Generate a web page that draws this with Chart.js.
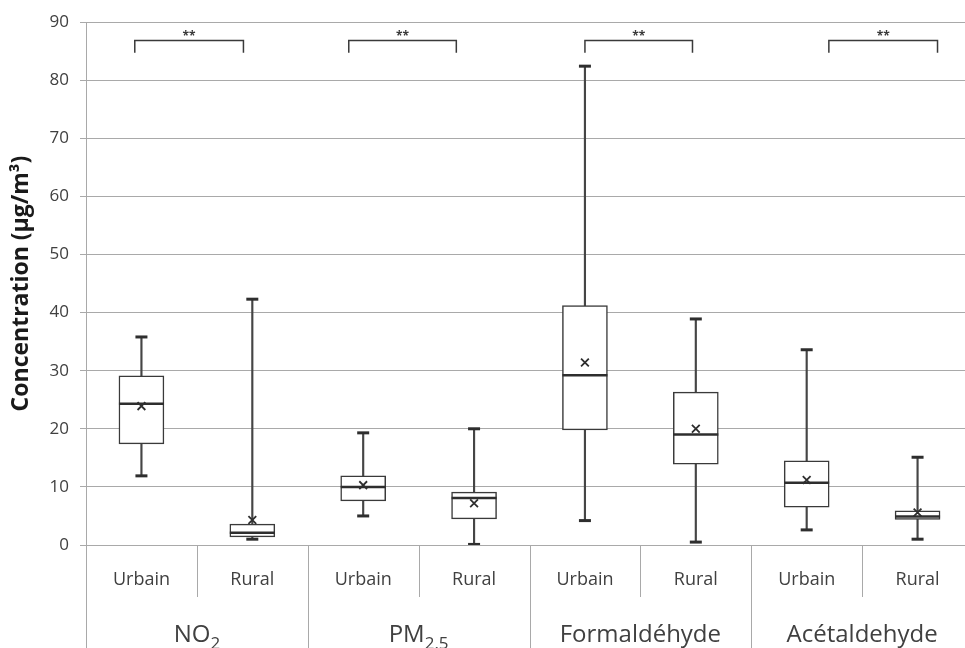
<!DOCTYPE html>
<html>
<head>
    <meta charset="UTF-8">
    <title>Concentrations Urbain / Rural</title>
    <script src="https://cdn.jsdelivr.net/npm/chart.js"></script>
    <style>
        html, body {
            margin: 0;
            padding: 0;
            background: #fff;
            overflow: hidden;
        }
        #boxChart {
            display: block;
        }
    </style>
</head>
<body>
    <canvas id="boxChart" width="974" height="648"></canvas>
    <script>
        // categories
        const sites = ['Urbain', 'Rural', 'Urbain', 'Rural', 'Urbain', 'Rural', 'Urbain', 'Rural'];
        const pollutants = ['NO2', 'PM2.5', 'Formaldéhyde', 'Acétaldehyde'];
        // box plot values (µg/m3)
        const minVals    = [11.9,  1.0,  5.0, 0.1,  4.2,  0.5,  2.6,  1.0];
        const q1Vals     = [17.4,  1.4,  7.6, 4.5, 19.8, 13.9,  6.5,  4.4];
        const medianVals = [24.3,  2.1, 10.0, 8.1, 29.2, 19.0, 10.7,  4.9];
        const q3Vals     = [29.1,  3.6, 11.9, 9.1, 41.2, 26.3, 14.5,  5.9];
        const maxVals    = [35.8, 42.3, 19.3, 20.0, 82.4, 38.9, 33.6, 15.1];
        const meanVals   = [23.9,  4.3, 10.3, 7.2, 31.4, 20.0, 11.2,  5.6];
        // y axis
        const yMin = 0, yMax = 90, yStep = 10;
        // significance brackets, in category positions
        const brackets = [[-0.06, 0.92], [1.87, 2.84], [4.0, 4.97], [6.2, 7.18]];
        const bracketTop = 86.8;
        const bracketFoot = 84.7;
        const sigLabel = '**';

        const ink = '#3a3a3a';
        const textColor = '#404040';
        const gridColor = '#a9a9a9';
        const font = "'Open Sans', sans-serif";

        // subscripts for the pollutant names
        function splitName(name) {
            if (name === 'NO2') return ['NO', '2'];
            if (name === 'PM2.5') return ['PM', '2.5'];
            return [name, ''];
        }

        const extrasPlugin = {
            id: 'extras',
            afterDraw(chart) {
                const {ctx, chartArea, scales: {x, y}} = chart;
                const bottom = chart.height;
                ctx.save();

                // x axis dividers
                ctx.strokeStyle = gridColor;
                ctx.lineWidth = 1;
                ctx.beginPath();
                ctx.moveTo(chartArea.left + 0.5, chartArea.bottom);
                ctx.lineTo(chartArea.left + 0.5, bottom);
                for (let i = 1; i < sites.length; i++) {
                    const bx = Math.round((x.getPixelForValue(i - 1) + x.getPixelForValue(i)) / 2) + 0.5;
                    ctx.moveTo(bx, chartArea.bottom);
                    ctx.lineTo(bx, i % 2 === 0 ? bottom : chartArea.bottom + 52);
                }
                ctx.stroke();

                // group labels
                ctx.fillStyle = textColor;
                ctx.textBaseline = 'alphabetic';
                pollutants.forEach((name, g) => {
                    const cx = (x.getPixelForValue(2 * g) + x.getPixelForValue(2 * g + 1)) / 2;
                    const [main, sub] = splitName(name);
                    ctx.font = "24px " + font;
                    const wMain = ctx.measureText(main).width;
                    ctx.font = "17px " + font;
                    const wSub = sub ? ctx.measureText(sub).width : 0;
                    const start = cx - (wMain + wSub) / 2;
                    ctx.textAlign = 'left';
                    ctx.font = "24px " + font;
                    ctx.fillText(main, start, 642);
                    if (sub) {
                        ctx.font = "17px " + font;
                        ctx.fillText(sub, start + wMain, 649);
                    }
                });

                // significance brackets
                ctx.strokeStyle = ink;
                ctx.lineWidth = 1.5;
                brackets.forEach(([a, b]) => {
                    const x1 = x.getPixelForValue(a);
                    const x2 = x.getPixelForValue(b);
                    const yt = y.getPixelForValue(bracketTop);
                    const yf = y.getPixelForValue(bracketFoot);
                    ctx.beginPath();
                    ctx.moveTo(x1, yf);
                    ctx.lineTo(x1, yt);
                    ctx.lineTo(x2, yt);
                    ctx.lineTo(x2, yf);
                    ctx.stroke();
                    ctx.font = "bold 12px " + font;
                    ctx.textAlign = 'center';
                    ctx.fillStyle = ink;
                    ctx.fillText(sigLabel, (x1 + x2) / 2, yt - 1);
                });
                ctx.restore();
            }
        };

        const ctx = document.getElementById('boxChart').getContext('2d');
        const boxChart = new Chart(ctx, {
            type: 'bar',
            data: {
                labels: sites,
                datasets: [
                    {
                        // whisker line
                        type: 'bar',
                        data: minVals.map((v, i) => [v, maxVals[i]]),
                        backgroundColor: '#454545',
                        borderWidth: 0,
                        barThickness: 1.5,
                        grouped: false,
                        order: 5
                    },
                    {
                        // box q1 - q3
                        type: 'bar',
                        data: q1Vals.map((v, i) => [v, q3Vals[i]]),
                        backgroundColor: '#ffffff',
                        borderColor: ink,
                        borderWidth: 1.5,
                        borderSkipped: false,
                        barThickness: 45,
                        grouped: false,
                        order: 4
                    },
                    {
                        type: 'line',
                        data: medianVals,
                        showLine: false,
                        pointStyle: 'line',
                        pointRadius: 22.5,
                        pointBorderWidth: 2.5,
                        borderColor: '#2e2e2e',
                        order: 3
                    },
                    {
                        type: 'line',
                        data: maxVals,
                        showLine: false,
                        pointStyle: 'line',
                        pointRadius: 6,
                        pointBorderWidth: 3,
                        borderColor: '#2e2e2e',
                        order: 2
                    },
                    {
                        type: 'line',
                        data: minVals,
                        showLine: false,
                        pointStyle: 'line',
                        pointRadius: 6,
                        pointBorderWidth: 3,
                        borderColor: '#2e2e2e',
                        order: 2
                    },
                    {
                        // mean marker
                        type: 'line',
                        data: meanVals,
                        showLine: false,
                        pointStyle: 'crossRot',
                        pointRadius: 5.5,
                        pointBorderWidth: 1.8,
                        borderColor: '#2e2e2e',
                        order: 1
                    }
                ]
            },
            options: {
                responsive: false,
                animation: false,
                events: [],
                layout: {
                    autoPadding: false,
                    padding: {top: 22, right: 1, left: 0, bottom: 0}
                },
                plugins: {
                    legend: {display: false},
                    tooltip: {enabled: false}
                },
                scales: {
                    x: {
                        type: 'category',
                        offset: true,
                        grid: {display: false, drawTicks: false},
                        border: {display: false},
                        ticks: {
                            color: textColor,
                            font: {family: font, size: 18},
                            padding: 24,
                            maxRotation: 0
                        },
                        afterFit(scale) {
                            scale.height = 103;
                            scale.paddingLeft = 0;
                            scale.paddingRight = 0;
                        }
                    },
                    y: {
                        min: yMin,
                        max: yMax,
                        ticks: {
                            stepSize: yStep,
                            color: textColor,
                            font: {family: font, size: 17},
                            padding: 11
                        },
                        grid: {
                            color: gridColor,
                            lineWidth: 1,
                            tickLength: 6
                        },
                        border: {color: gridColor},
                        title: {
                            display: true,
                            text: 'Concentration (µg/m³)',
                            color: '#1a1a1a',
                            font: {family: font, size: 23, weight: 'bold'},
                            padding: {top: 8, bottom: 0}
                        },
                        afterFit(scale) {
                            scale.width = 86;
                        }
                    }
                }
            },
            plugins: [extrasPlugin]
        });
    </script>
</body>
</html>
